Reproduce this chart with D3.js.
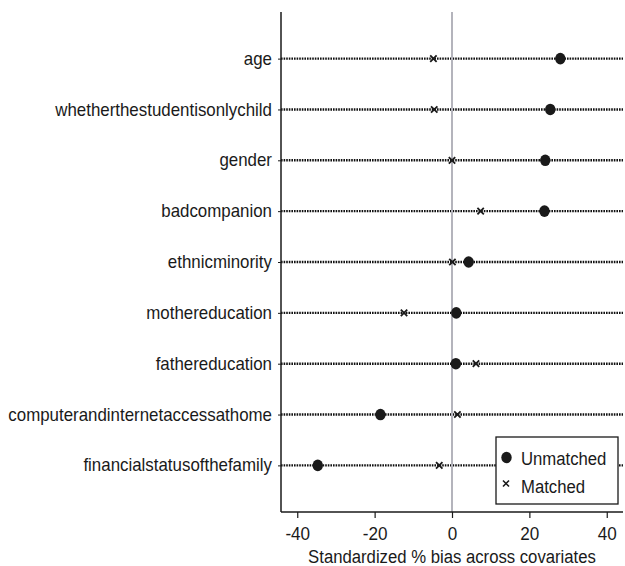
<!DOCTYPE html>
<html>
<head>
<meta charset="utf-8">
<script src="https://cdn.jsdelivr.net/npm/d3@7"></script>
<style>
  html, body { margin: 0; padding: 0; background: #fff; }
  svg text { font-family: "Liberation Sans", Arial, sans-serif; fill: #1a1a1a; }
</style>
</head>
<body>
<svg id="chart" width="625" height="566"></svg>
<script>
// Covariates, top to bottom
const covariates = [
  "age",
  "whetherthestudentisonlychild",
  "gender",
  "badcompanion",
  "ethnicminority",
  "mothereducation",
  "fathereducation",
  "computerandinternetaccessathome",
  "financialstatusofthefamily"
];
// Standardized % bias before matching
const unmatched = [28.0, 25.4, 24.1, 23.9, 4.3, 1.1, 1.0, -18.5, -34.7];
// Standardized % bias after matching
const matched = [-4.8, -4.6, 0.0, 7.4, 0.1, -12.4, 6.2, 1.4, -3.3];
const xTicks = [-40, -20, 0, 20, 40];
const xTitle = "Standardized % bias across covariates";
const legendLabels = ["Unmatched", "Matched"];

const svg = d3.select("#chart");
const plot = { left: 281, right: 623, top: 12, bottom: 512 };
const ink = "#1a1a1a";

// Narrow the glyphs horizontally around each text's own x anchor
function squeeze(sel, sx) {
  sel.attr("transform", function () {
    const ax = +this.getAttribute("x") || 0;
    return `translate(${ax},0) scale(${sx},1) translate(${-ax},0)`;
  });
}

const x = d3.scaleLinear().domain([-44.2, 44.2]).range([plot.left, plot.right]);
const y = d3.scalePoint().domain(covariates).range([plot.top, plot.bottom]).padding(0.917);

// Dotted guide line for each covariate
svg.append("g").selectAll("line")
  .data(covariates)
  .join("line")
  .attr("x1", plot.left).attr("x2", plot.right)
  .attr("y1", d => y(d)).attr("y2", d => y(d))
  .attr("stroke", "#111").attr("stroke-width", 2.4)
  .attr("stroke-dasharray", "1.6 1");

// Zero reference line
svg.append("line")
  .attr("x1", x(0)).attr("x2", x(0))
  .attr("y1", plot.top).attr("y2", plot.bottom)
  .attr("stroke", "#b4b4bc").attr("stroke-width", 2);

// Y axis with category labels
const yAxis = d3.axisLeft(y).tickSize(3).tickPadding(6);
const gy = svg.append("g").attr("transform", `translate(${plot.left},0)`).call(yAxis);
gy.select(".domain").remove();
gy.selectAll(".tick line").attr("stroke", ink).attr("stroke-width", 1);
gy.selectAll(".tick text").attr("font-size", 17.5).style("font-family", null).call(squeeze, 0.965);
gy.append("line").attr("x1", 0).attr("x2", 0).attr("y1", plot.top).attr("y2", plot.bottom)
  .attr("stroke", ink).attr("stroke-width", 1.5);

// X axis
const xAxis = d3.axisBottom(x).tickValues(xTicks).tickSize(6).tickPadding(9).tickFormat(d => String(d));
const gx = svg.append("g").attr("transform", `translate(0,${plot.bottom})`).call(xAxis);
gx.select(".domain").remove();
gx.selectAll(".tick line").attr("stroke", ink).attr("stroke-width", 1.2);
gx.selectAll(".tick text").attr("font-size", 19).style("font-family", null).call(squeeze, 0.9);
gx.append("line").attr("x1", plot.left).attr("x2", plot.right).attr("y1", 0).attr("y2", 0)
  .attr("stroke", ink).attr("stroke-width", 1.5);

svg.append("text")
  .attr("x", (plot.left + plot.right) / 2).attr("y", 563)
  .attr("text-anchor", "middle").attr("font-size", 19)
  .text(xTitle)
  .call(squeeze, 0.88);

// Cross marker path
function cross(cx, cy, s) {
  return `M${cx - s},${cy - s}L${cx + s},${cy + s}M${cx - s},${cy + s}L${cx + s},${cy - s}`;
}

// Unmatched markers
svg.append("g").selectAll("ellipse")
  .data(unmatched)
  .join("ellipse")
  .attr("cx", d => x(d)).attr("cy", (d, i) => y(covariates[i]))
  .attr("rx", 5.2).attr("ry", 5.8)
  .attr("fill", ink);

// Matched markers
svg.append("g").selectAll("path")
  .data(matched)
  .join("path")
  .attr("d", (d, i) => cross(x(d), y(covariates[i]), 3.2))
  .attr("stroke", ink).attr("stroke-width", 1.8).attr("fill", "none");

// Legend
const lg = svg.append("g");
lg.append("rect").attr("x", 496).attr("y", 437).attr("width", 122).attr("height", 67)
  .attr("fill", "#fff").attr("stroke", ink).attr("stroke-width", 1.3);
lg.append("ellipse").attr("cx", 506.5).attr("cy", 457.5).attr("rx", 5.2).attr("ry", 5.8).attr("fill", ink);
lg.append("path").attr("d", cross(506, 483.5, 3)).attr("stroke", ink).attr("stroke-width", 1.6);
lg.append("text").attr("x", 521).attr("y", 465).attr("font-size", 19).text(legendLabels[0]).call(squeeze, 0.88);
lg.append("text").attr("x", 521).attr("y", 493.5).attr("font-size", 19).text(legendLabels[1]).call(squeeze, 0.88);
</script>
</body>
</html>
